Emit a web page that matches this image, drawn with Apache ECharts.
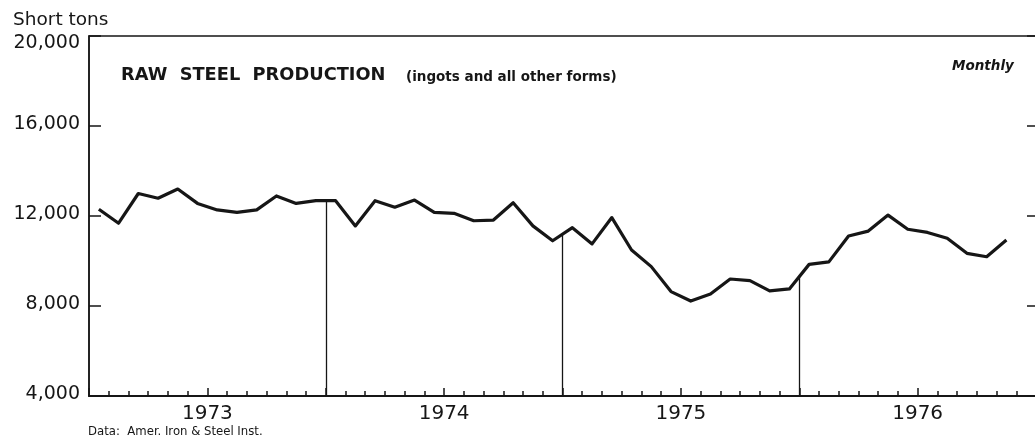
<!DOCTYPE html>
<html>
<head>
<meta charset="utf-8">
<script src="https://cdn.jsdelivr.net/npm/echarts@6/dist/echarts.min.js"></script>
<style>
    html, body { margin: 0; padding: 0; background: #fff; overflow: hidden; }
    /* the plot runs a few pixels past the right edge of the page, as in the print */
    #chart { width: 1039px; height: 438px; }
</style>
</head>
<body>
<div id="chart"></div>
<script>
// raw steel production, thousand short tons, monthly Jan 1973 .. Nov 1976
const years = ['1973', '1974', '1975', '1976'];
const steel1973 = [12300, 11680, 13000, 12790, 13200, 12560, 12270, 12160, 12270, 12890, 12560, 12680];
const steel1974 = [12680, 11560, 12680, 12390, 12710, 12160, 12120, 11790, 11820, 12590, 11560, 10900];
const steel1975 = [11480, 10760, 11930, 10490, 9750, 8640, 8220, 8530, 9200, 9130, 8670, 8760];
const steel1976 = [9850, 9960, 11110, 11330, 12040, 11410, 11270, 11010, 10340, 10190, 10930];
const yTicks = [4000, 8000, 12000, 16000, 20000];

const values = [].concat(steel1973, steel1974, steel1975, steel1976);
const yMin = yTicks[0];
const yMax = yTicks[yTicks.length - 1];
const monthCount = years.length * 12;

// points sit in the middle of each month
const points = values.map((v, i) => [i + 0.5, v]);

// drop lines at each year boundary, from the curve down to the axis
const dropLines = [];
for (let k = 12; k < values.length; k += 12) {
    const v = (values[k - 1] + values[k]) / 2;
    dropLines.push([{coord: [k, v]}, {coord: [k, yMin]}]);
}

const font = 'DejaVu Sans';
const ink = '#161616';

const option = {
    animation: false,
    backgroundColor: '#fff',
    title: [
        {
            text: 'Short tons',
            left: 8, top: 6,
            textStyle: {fontFamily: font, fontSize: 18.5, fontWeight: 'normal', color: ink}
        },
        {
            text: 'RAW  STEEL  PRODUCTION',
            left: 116, top: 61,
            textStyle: {fontFamily: font, fontSize: 17.8, fontWeight: 'bold', color: ink}
        },
        {
            text: '(ingots and all other forms)',
            left: 401, top: 65,
            textStyle: {fontFamily: font, fontSize: 13.5, fontWeight: 'bold', color: ink}
        },
        {
            text: 'Monthly',
            left: 947, top: 54,
            textStyle: {fontFamily: font, fontSize: 13.5, fontWeight: 'bold', fontStyle: 'italic', color: ink}
        },
        {
            text: 'Data:  Amer. Iron & Steel Inst.',
            left: 83, top: 420,
            textStyle: {fontFamily: 'DejaVu Sans Condensed', fontSize: 13, fontWeight: 'normal', color: ink}
        }
    ],
    grid: {
        left: 89, right: 0, top: 36, bottom: 42,
        show: true, borderColor: ink, borderWidth: 1.5
    },
    xAxis: {
        type: 'value',
        min: 0,
        max: monthCount,
        interval: 6,
        axisLine: {show: true, lineStyle: {color: ink, width: 2}},
        axisTick: {show: true, inside: true, length: 8, lineStyle: {color: ink, width: 1.5}},
        minorTick: {show: true, splitNumber: 6, length: 5, lineStyle: {color: ink, width: 1.5}},
        splitLine: {show: false},
        axisLabel: {
            margin: 8,
            fontFamily: font,
            fontSize: 20,
            color: ink,
            formatter: v => (v % 12 === 6 ? years[(v - 6) / 12] : '')
        }
    },
    yAxis: [
        {
            type: 'value',
            min: yMin,
            max: yMax,
            interval: 4000,
            axisLine: {show: true, lineStyle: {color: ink, width: 1.5}},
            axisTick: {show: true, inside: true, length: 12, lineStyle: {color: ink, width: 1.5}},
            splitLine: {show: false},
            axisLabel: {
                margin: 9,
                fontFamily: font,
                fontSize: 19,
                color: ink,
                // top label hangs below the frame line, the rest sit a touch above their ticks
                formatter: v => (v === yMax ? '{top|' : '{rest|') + v.toLocaleString('en-US') + '}',
                rich: {
                    top: {fontFamily: font, fontSize: 19, color: ink, padding: [15, 0, 0, 0]},
                    rest: {fontFamily: font, fontSize: 19, color: ink, padding: [0, 0, 4, 0]}
                }
            }
        },
        {
            type: 'value',
            position: 'right',
            min: yMin,
            max: yMax,
            interval: 4000,
            axisLine: {show: true, lineStyle: {color: ink, width: 1.5}},
            axisTick: {show: true, inside: true, length: 9, lineStyle: {color: ink, width: 1.5}},
            splitLine: {show: false},
            axisLabel: {show: false}
        }
    ],
    series: [
        {
            name: 'Raw steel production',
            type: 'line',
            data: points,
            showSymbol: false,
            lineStyle: {color: ink, width: 3.2, join: 'round'},
            markLine: {
                silent: true,
                symbol: 'none',
                label: {show: false},
                lineStyle: {color: ink, width: 1.3, type: 'solid'},
                data: dropLines
            }
        }
    ]
};

const myChart = echarts.init(document.getElementById('chart'));
myChart.setOption(option);
</script>
</body>
</html>
